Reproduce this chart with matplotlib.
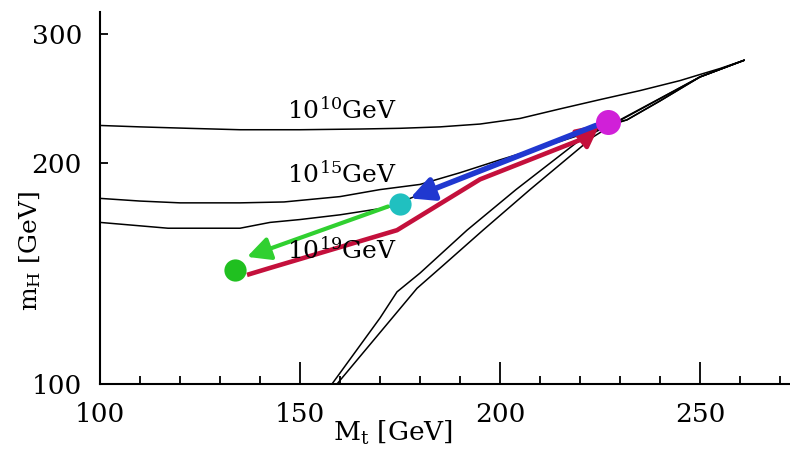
import numpy as np
import matplotlib
matplotlib.use("Agg")
import matplotlib.pyplot as plt

plt.rcParams['font.family'] = ['DejaVu Serif']
plt.rcParams['mathtext.fontset'] = 'dejavuserif'

# upper (triviality) bounds for three cut-off scales
mt_1e10 = [100, 110, 122, 135, 150, 165, 175, 185, 195, 205, 215, 225, 235, 245, 250, 255, 261]
mh_1e10 = [225, 224, 223, 222, 222, 222.5, 223, 224, 226, 230, 237, 244, 251, 259, 264, 269, 276]
mt_1e15 = [100, 110, 120, 135, 146, 160, 170, 180, 190, 200, 215, 231.75, 240, 250, 261]
mh_1e15 = [179, 177.5, 176.5, 176.5, 177, 180, 184, 187, 194, 202, 214, 229, 243, 262, 276]
mt_1e19 = [100, 117, 135, 142.5, 150, 160, 172, 185, 200, 215, 225, 231.75, 240, 250, 261]
mh_1e19 = [166, 163, 163, 166, 167.5, 170, 174, 186, 200, 214.5, 224, 229, 243, 262, 276]

# lower (stability) bounds
mt_low_a = [158, 170, 174.25, 180, 191.75, 204, 220, 227, 230, 250, 261]
mh_low_a = [100, 123, 133.5, 141.6, 162, 184, 215, 225, 229, 262, 276]
mt_low_b = [159.25, 179.25, 185.75, 195.75, 207.5, 223.25, 229, 250, 261]
mh_low_b = [100, 135, 145, 162, 184, 217, 227, 262, 276]

# fixed points
pt_mag = (227, 227.5)
pt_cyan = (175, 176)
pt_green = (133.75, 143)

# flow paths
red_mt = [136.75, 142.5, 174.25, 195, 220]
red_mh = [140.8, 143.9, 162, 190, 215]
green_start = (172, 174.5)
green_tip = (136.75, 149)
blue_start = (224, 225)
blue_tip = (177.5, 179)
red_tip = (225, 226)

fig = plt.figure(figsize=(7.9, 4.51), dpi=100)
ax = fig.add_axes([0.1266, 0.1486, 0.8734, 0.8244])
ax.set_yscale('log')

for xs, ys in [(mt_1e10, mh_1e10), (mt_1e15, mh_1e15), (mt_1e19, mh_1e19),
               (mt_low_a, mh_low_a), (mt_low_b, mh_low_b)]:
    ax.plot(xs, ys, color='black', lw=1.1, zorder=2)

red = '#c4103c'
blue = '#2038d0'
green = '#30d030'
head = '-|>,head_length=0.7,head_width=0.35'

# red: green -> magenta
ax.plot(red_mt, red_mh, color=red, lw=3.3, zorder=3, solid_capstyle='butt')
ax.annotate('', xy=red_tip, xytext=(red_mt[-1], red_mh[-1]),
            arrowprops=dict(arrowstyle=head, color=red, lw=3.3, mutation_scale=20,
                            shrinkA=0, shrinkB=0), zorder=3)
# blue: magenta -> cyan
ax.annotate('', xy=blue_tip, xytext=blue_start,
            arrowprops=dict(arrowstyle=head, color=blue, lw=4, mutation_scale=20,
                            shrinkA=0, shrinkB=0), zorder=4)
# green: cyan -> green
ax.annotate('', xy=green_tip, xytext=green_start,
            arrowprops=dict(arrowstyle=head, color=green, lw=3, mutation_scale=20,
                            shrinkA=0, shrinkB=0), zorder=3)

ax.plot(*pt_mag, 'o', color='#d020d8', ms=18, mec='none', zorder=5)
ax.plot(*pt_cyan, 'o', color='#20c0c0', ms=16, mec='none', zorder=5)
ax.plot(*pt_green, 'o', color='#20c020', ms=16, mec='none', zorder=5)

ax.text(160.5, 236, r'$10^{10}$GeV', fontsize=18, ha='center', va='center', zorder=6)
ax.text(160.5, 193, r'$10^{15}$GeV', fontsize=18, ha='center', va='center', zorder=6)
ax.text(160.5, 152, r'$10^{19}$GeV', fontsize=18, ha='center', va='center', zorder=6)

ax.set_xlim(100, 272.5)
ax.set_ylim(100, 321)
ax.set_xticks([100, 150, 200, 250])
ax.set_xticks(np.arange(110, 272, 10), minor=True)
ax.set_yticks([100, 200, 300])
ax.set_yticks([], minor=True)
ax.set_yticklabels(['100', '200', '300'])
ax.tick_params(axis='x', which='major', direction='in', length=16, width=1.3,
               labelsize=19, pad=13)
ax.tick_params(axis='x', which='minor', direction='in', length=6, width=1.3)
ax.tick_params(axis='y', which='major', direction='in', length=6, width=1.3,
               labelsize=19, pad=13)
for s in ['top', 'right']:
    ax.spines[s].set_visible(False)
for s in ['left', 'bottom']:
    ax.spines[s].set_linewidth(1.5)

fig.text(393 / 790, 1 - 433 / 451, r'M$_{\rm t}$ [GeV]', fontsize=19,
         ha='center', va='center')
fig.text(30 / 790, 1 - 251 / 451, r'm$_{\rm H}$ [GeV]', fontsize=18,
         ha='center', va='center', rotation=90)

fig.savefig('out.png', dpi=100)
